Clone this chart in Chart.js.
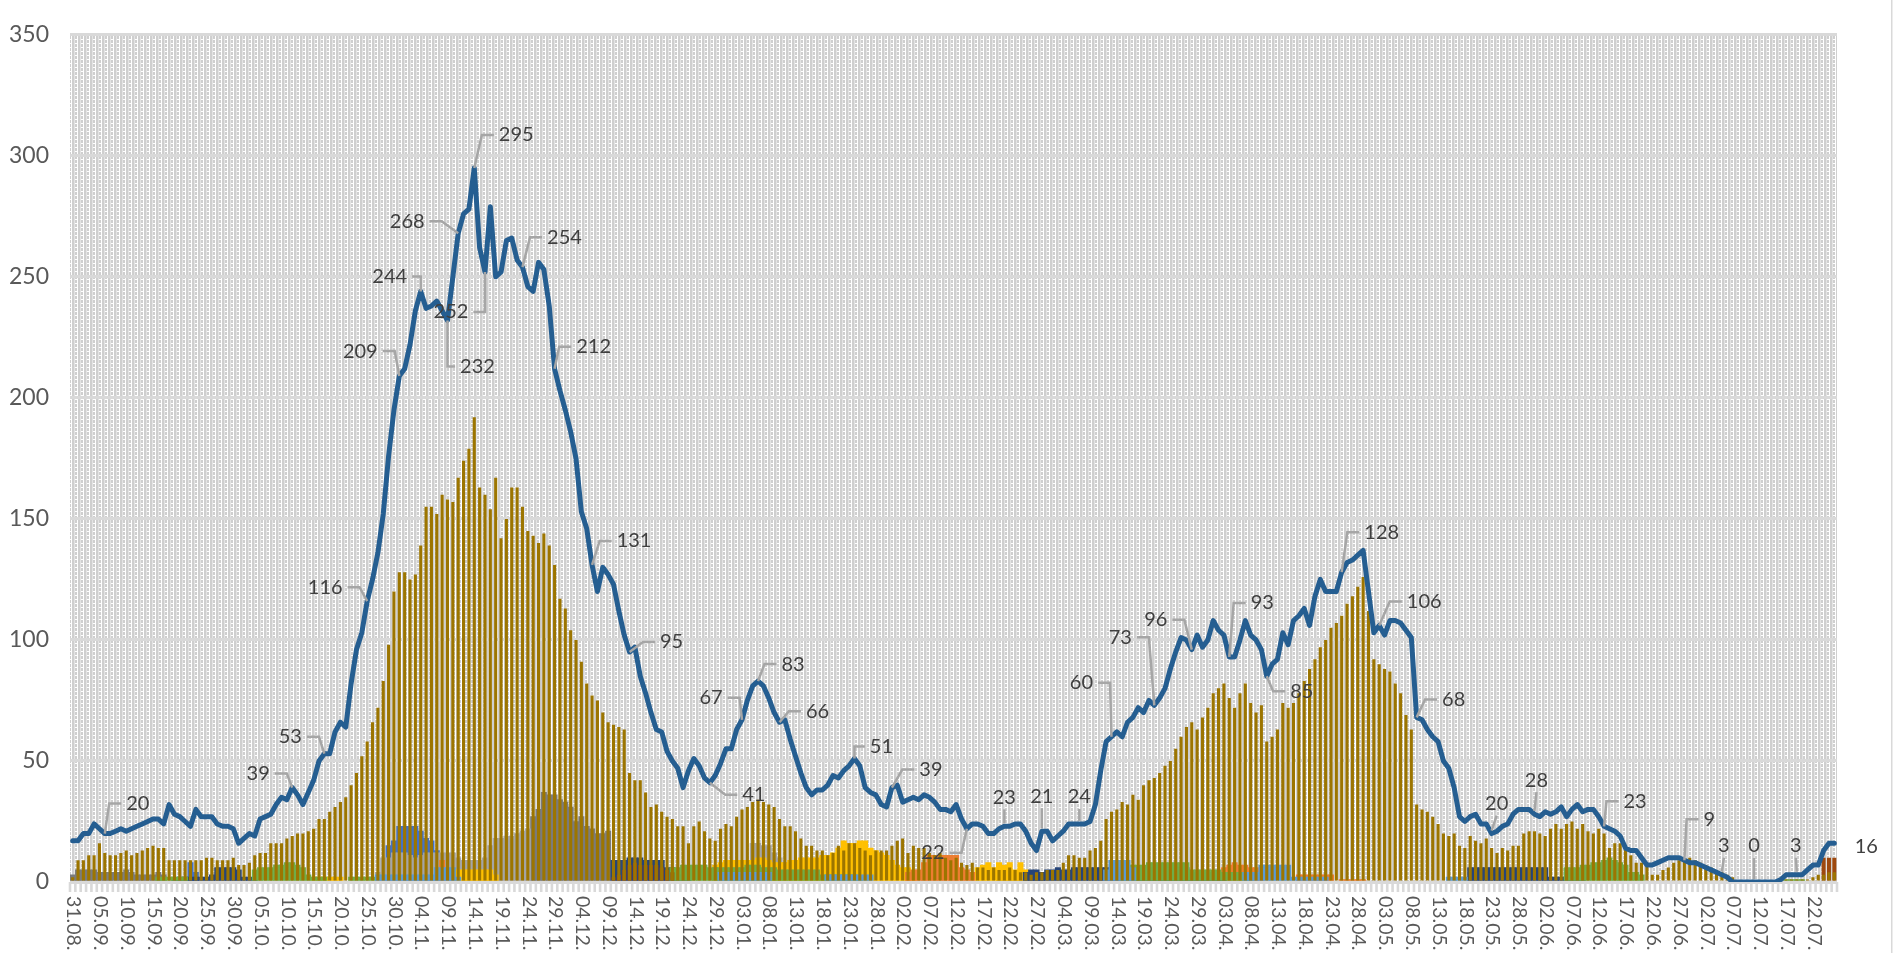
<!DOCTYPE html>
<html>
<head>
<meta charset="utf-8">
<script src="https://cdn.jsdelivr.net/npm/chart.js@4.4.1/dist/chart.umd.min.js"></script>
<style>
html, body { margin: 0; padding: 0; background: #fff; }
canvas { display: block; }
</style>
</head>
<body>
<canvas id="chart" width="1899" height="953"></canvas>
<script>
'use strict';

// daily values, first day 31.08.
let firstDay = new Date(2020, 7, 31);
let tickEvery = 5;
let tickLabels = ['31.08.','05.09.','10.09.','15.09.','20.09.','25.09.','30.09.','05.10.','10.10.','15.10.','20.10.','25.10.','30.10.',
  '04.11.','09.11.','14.11.','19.11.','24.11.','29.11.','04.12.','09.12.','14.12.','19.12.','24.12.','29.12.',
  '03.01.','08.01.','13.01.','18.01.','23.01.','28.01.','02.02.','07.02.','12.02.','17.02.','22.02.','27.02.',
  '04.03.','09.03.','14.03.','19.03.','24.03.','29.03.','03.04.','08.04.','13.04.','18.04.','23.04.','28.04.',
  '03.05.','08.05.','13.05.','18.05.','23.05.','28.05.','02.06.','07.06.','12.06.','17.06.','22.06.','27.06.',
  '02.07.','07.07.','12.07.','17.07.','22.07.'];
let yTicks = [0, 50, 100, 150, 200, 250, 300, 350];

let lineValues = [
  17,17,20,20,24,22,20,20,21,22, 21,22,23,24,25,26,26,24,32,28,
  27,25,23,30,27,27,27,24,23,23, 22,16,18,20,19,26,27,28,32,35,
  34,39,36,32,37,42,50,53,53,62, 66,64,82,96,103,116,125,136,152,176,
  195,209,212,222,236,244,237,238,240,236, 232,250,268,276,278,295,262,252,279,250,
  252,265,266,257,254,246,244,256,253,238, 212,203,195,186,175,153,146,131,120,130,
  127,123,112,102,95,97,85,78,70,63, 62,54,50,47,39,46,51,48,43,41,
  44,49,55,55,63,67,75,81,83,81, 76,70,66,67,59,52,45,39,36,38,
  38,40,44,43,46,48,51,48,39,37, 36,32,31,39,40,33,34,35,34,36,
  35,33,30,30,29,32,26,22,24,24, 23,20,20,22,23,23,24,24,21,16,
  13,21,21,17,19,21,24,24,24,24, 25,32,46,58,60,62,60,66,68,72,
  70,75,73,76,80,88,95,101,100,96, 102,97,100,108,104,102,93,93,100,108,
  102,100,96,85,90,92,103,98,108,110, 113,106,118,125,120,120,120,128,132,133,
  135,137,120,103,106,102,108,108,107,104, 101,68,67,63,60,58,50,47,39,27,
  25,27,28,24,24,20,21,23,24,28, 30,30,30,28,27,29,28,29,31,27,
  30,32,29,30,30,27,23,22,21,19, 14,13,13,10,7,7,8,9,10,10,
  10,9,8,8,7,6,5,4,3,2, 0,0,0,0,0,0,0,0,0,1,
  3,3,3,3,5,7,7,13,16,16
];

let oliveValues = [
  2,9,9,11,11,16,12,11,11,12, 13,11,12,13,14,15,14,14,9,9,
  9,9,9,9,9,10,10,9,9,9, 10,7,7,8,11,12,12,16,16,16,
  18,19,20,20,21,22,26,26,29,31, 33,35,40,45,52,58,66,72,83,98,
  120,128,128,125,127,139,155,155,152,160, 158,157,167,174,179,192,163,160,154,167,
  142,150,163,163,155,145,143,140,144,139, 131,117,113,104,100,91,82,77,75,70,
  66,65,64,63,45,42,42,37,31,32, 29,27,26,23,23,16,23,25,21,18,
  17,22,24,23,27,30,31,33,34,33, 32,31,26,23,23,21,18,15,15,13,
  13,11,12,15,13,16,16,14,13,11, 13,13,13,15,17,18,12,15,14,14,
  12,11,12,10,9,10,8,7,8,6, 6,5,6,5,5,6,5,4,4,3,
  4,4,5,5,5,8,11,11,10,10, 13,14,17,26,29,30,33,32,36,34,
  40,42,43,45,48,50,55,60,64,66, 63,68,72,78,80,82,76,72,78,82,
  74,70,73,58,60,63,74,72,74,78, 83,88,92,97,100,105,107,110,115,118,
  122,126,112,92,90,88,87,82,78,69, 63,32,30,29,27,24,20,19,20,15,
  14,19,17,16,18,14,12,14,13,15, 15,20,21,21,20,19,22,24,22,24,
  25,22,24,21,20,22,20,14,16,16, 14,11,8,8,7,3,3,5,6,8,
  9,9,10,9,8,7,6,5,4,3, 2,0,0,0,0,0,0,0,0,0,
  1,1,1,1,1,2,3,3,4,4
];

// smaller series: [first day index, values]
let darkGrayParts = [[0, [3,5,5,5,5,4,4,4,4,4,5,4,3,3,3,3,4,3]],
  [86, [27,30,37,36,36,34,33,31,25,27,23,22,20,20,21]],
  [173, [4,4,4,4,4,4,4,4,4]]];
let lightGrayParts = [[57, [4,10,10,12,12,12,11,10,11,12,12,12,12,12,12,10,9,9,9,9,10,15,18,18,19,19,20,21,22]],
  [127, [16,16,15,15,12,10,8]]];
let blueParts = [[22, [8,4]], [59, [15,17,23,23,23,23,21,18,17,13,10,3]]];
let navyParts = [[19, [1,2,2,2,2,2,2,3,6,6,6,6,5,2,2,1]],
  [101, [9,9,9,10,10,10,9,9,9,9,6,6,3,3,2]],
  [178, [4,5,5,4,5,5,6,5,5,6,6,6,6,6,6,6,6,6,5,6,6,6,6,6,6,6,6,6,6,6,6,4,4,4,4,2,2,2]],
  [261, [6,6,6,6,6,6,6,6,6,6,6,6,6,6,6,2,2,2,2,2,2,2]]];
let lightBlueParts = [[57, [3,3,3,3,3,3,3,3,3,3,3,6,6,6,6,2]], [121, [4,4,4,4,4,4,4,4,4,4]],
  [141, [3,3,3,3,3,3,3,3,3]], [193, [5,9,9,9,9,6]],
  [219, [4,4,4,7,7,7,7,7,7,2,2,2,2,2,2,2]], [257, [2,2,2,2]]];
let greenParts = [[16, [2,2,2,2,2,2]], [34, [5,6,6,6,7,7,8,8,7,6,3,2,2,2]], [52, [2,2,2,2,2]],
  [112, [6,6,7,7,7,7,7,6,6,6,6,6,6,6,7,7,7,6,6,6,5,5,5,5,5,5,5,5]],
  [140, [3,3,3,3,3,3,3,2]],
  [196, [6,7,7,7,7,8,8,8,8,8,8,8,8,5,5,5,5,5,5,4,4,4,4,4,4]],
  [279, [6,6,6,7,7,8,8,9,10,9,8,7,4,4,3]], [320, [1,1,1,1]]];
let orangeParts = [[69, [9]], [120, [6,5]], [156, [4,5,5,8,11,11,11,11,11,11,6,5,4]],
  [214, [4,6,7,8,7,7,6,6,5]], [229, [3,3,3,3,3,3,3]], [237, [1,1,1,1,1]]];
let yellowParts = [[45, [2,2,2,2,2,2]], [72, [5,5,5,5,5,5,5,3]],
  [120, [7,8,9,9,9,9,9,9,10,10,9,8,8,8,9,9,10,10,10,10,11,11,12,14,17,16,16,17,17,14,13,12,11,9,7,6,6,4]],
  [169, [6,7,8,6,8,7,8,5,8,5]]];
let darkOrangeParts = [[101, [2,3,5,7,8,7,7,7,7,6,5,4]], [327, [10,10,10]]];

// which line points carry a value label, and where the label sits (px from the point)
let labelAt = [6,41,47,55,61,65,70,72,75,77,84,90,97,104,119,125,128,132,146,153,
  167,174,181,188,194,202,209,216,223,237,244,251,265,273,286,301,308,314,322,329];
let labelOffset = [[33,-30],[-34,-14],[-34,-17],[-42,-14],[-39,-25],[-31,-15],[30,46],[-51,-12],[42,-33],[-34,40],
  [42,-30],[39,-22],[42,-24],[42,-10],[44,12],[-31,-22],[35,-17],[38,-11],[27,-12],[39,-18],
  [-34,24],[0,-29],[0,-35],[0,-27],[-30,-54],[-34,-68],[-36,-30],[33,-54],[35,15],[40,-40],
  [45,-24],[37,-18],[5,-30],[2,-34],[31,-25],[25,-41],[2,-29],[0,-36],[-1,-29],[32,3]];

let dayCount = lineValues.length;
let categories = [];
for (let i = 0; i < dayCount; i++) {
  let d = new Date(firstDay.getFullYear(), firstDay.getMonth(), firstDay.getDate() + i);
  categories.push(String(d.getDate()).padStart(2, '0') + '.' + String(d.getMonth() + 1).padStart(2, '0') + '.');
}

function fromParts(parts) {
  let arr = new Array(dayCount).fill(null);
  parts.forEach(function (p) {
    p[1].forEach(function (v, k) { arr[p[0] + k] = v; });
  });
  return arr;
}

function backBar(label, parts, color, order, pct) {
  return { type: 'bar', label: label, data: fromParts(parts), backgroundColor: color,
    barPercentage: pct || 1, categoryPercentage: 1, order: order };
}

function makeTile() {
  let c = document.createElement('canvas');
  c.width = 6; c.height = 8;
  let t = c.getContext('2d');
  t.fillStyle = '#ffffff';
  t.fillRect(0, 0, 6, 8);
  t.fillStyle = '#cfcfcf';
  t.fillRect(0, 0, 2, 8);
  for (let y = 0; y < 8; y++) {
    if (y !== 3 && y !== 7) t.fillRect(3, y, 2, 1);
  }
  t.fillStyle = '#e4e4e4';
  t.fillRect(2, 0, 1, 8);
  return c;
}

let backgroundPlugin = {
  id: 'background',
  beforeDraw(chart) {
    let a = chart.chartArea;
    let ctx = chart.ctx;
    ctx.save();
    ctx.fillStyle = ctx.createPattern(makeTile(), 'repeat');
    ctx.fillRect(a.left, a.top, a.right - a.left, a.bottom - a.top);
    let w = (a.right - a.left) / dayCount;
    ctx.fillStyle = '#d9d9d9';
    for (let i = 0; i <= dayCount; i++) {
      ctx.fillRect(a.left + i * w - 1.3, a.bottom, 2.6, 10);
    }
    ctx.fillRect(1891, 0, 1.5, chart.height);
    ctx.restore();
  }
};

let labelPlugin = {
  id: 'pointLabels',
  afterDatasetsDraw(chart) {
    let ctx = chart.ctx;
    let pts = chart.getDatasetMeta(0).data;
    ctx.save();
    ctx.font = '20px Lato';
    ctx.textAlign = 'center';
    ctx.textBaseline = 'middle';
    ctx.lineWidth = 2.5;
    ctx.strokeStyle = '#a6a6a6';
    labelAt.forEach(function (idx, n) {
      let p = pts[idx];
      let dx = labelOffset[n][0], dy = labelOffset[n][1];
      let cx = p.x + dx, cy = p.y + dy;
      let text = String(lineValues[idx]);
      let w = ctx.measureText(text).width;
      ctx.beginPath();
      if (Math.abs(dx) < 10) {
        let y0 = cy + (dy < 0 ? 12 : -12);
        let y1 = p.y + (dy < 0 ? -3 : 3);
        if (Math.abs(y1 - y0) > 3) {
          ctx.moveTo(cx, y0);
          ctx.lineTo(p.x, y1);
        }
      } else if (Math.abs(dy) >= 10 || Math.abs(dx) > 40) {
        let s = dx > 0 ? 1 : -1;
        let ex = cx - s * (w / 2 + 5);
        let hx = ex - s * Math.min(12, Math.abs(ex - p.x));
        ctx.moveTo(p.x, p.y);
        ctx.lineTo(hx, cy);
        ctx.lineTo(ex, cy);
      }
      ctx.stroke();
      ctx.fillStyle = '#404040';
      ctx.fillText(text, cx, cy);
    });
    ctx.restore();
  },
  afterDraw(chart) {
    let ctx = chart.ctx;
    let xs = chart.scales.x;
    ctx.save();
    ctx.font = '19.5px Lato';
    ctx.fillStyle = '#595959';
    ctx.textAlign = 'left';
    ctx.textBaseline = 'middle';
    tickLabels.forEach(function (t, k) {
      let x = xs.getPixelForValue(k * tickEvery);
      ctx.save();
      ctx.translate(x + 1, 896);
      ctx.rotate(Math.PI / 2);
      ctx.fillText(t, 0, 0);
      ctx.restore();
    });
    ctx.restore();
  }
};

let ctx = document.getElementById('chart').getContext('2d');
let chart = new Chart(ctx, {
  type: 'bar',
  data: {
    labels: categories,
    datasets: [
      { type: 'line', label: 'line', data: lineValues, borderColor: '#255e91', borderWidth: 5,
        pointRadius: 0, tension: 0, borderJoinStyle: 'round', borderCapStyle: 'round', order: 0 },
      { type: 'bar', label: 'main', data: oliveValues, backgroundColor: '#9c7500',
        barPercentage: 0.58, categoryPercentage: 1, order: 1 },
      backBar('lightblue', lightBlueParts, '#5b9bd5', 2),
      backBar('darkorange', darkOrangeParts, '#9e480e', 3, 0.75),
      backBar('green', greenParts, '#70ad47', 4),
      backBar('navy', navyParts, '#264478', 5),
      backBar('orange', orangeParts, '#ed7d31', 6),
      backBar('yellow', yellowParts, '#ffc000', 7),
      backBar('lightgray', lightGrayParts, '#a5a5a5', 8),
      backBar('blue', blueParts, '#4472c4', 9),
      backBar('darkgray', darkGrayParts, '#7b7b7b', 10)
    ]
  },
  options: {
    responsive: false,
    animation: false,
    events: [],
    layout: { padding: { top: 18, right: 62, left: 0, bottom: 0 } },
    datasets: { bar: { grouped: false } },
    plugins: { legend: { display: false }, tooltip: { enabled: false } },
    scales: {
      x: {
        grid: { display: false },
        border: { display: false },
        ticks: { display: false },
        afterFit: function (s) { s.height = 71; }
      },
      y: {
        min: 0,
        max: 350,
        afterBuildTicks: function (s) { s.ticks = yTicks.map(function (v) { return { value: v }; }); },
        ticks: { color: '#595959', font: { family: 'Lato', size: 23 }, padding: 21 },
        grid: { color: '#d9d9d9', lineWidth: 3, drawTicks: false },
        border: { display: false },
        afterFit: function (s) { s.width = 70; }
      }
    }
  },
  plugins: [backgroundPlugin, labelPlugin]
});
</script>
</body>
</html>
